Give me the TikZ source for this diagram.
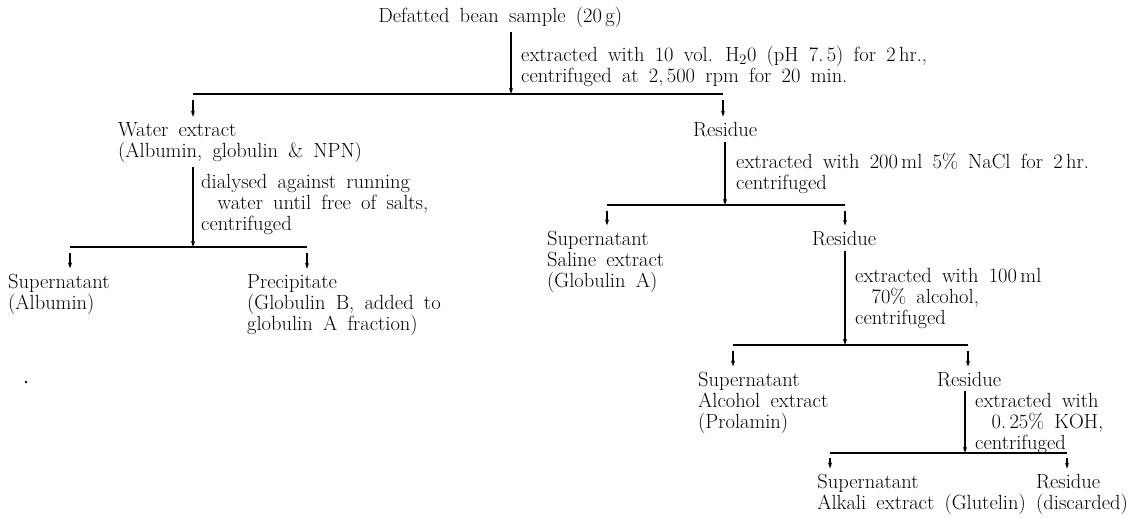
\documentclass[tikz,border=0pt]{standalone}
\usetikzlibrary{arrows.meta}
\newcommand{\fsz}{\fontsize{20.5}{21}\selectfont\spaceskip=0.5em plus 0.1em minus 0.05em\relax}
\newcommand{\mlt}[1]{\vtop{\baselineskip=21pt\lineskiplimit=-30pt\lineskip=0pt #1}}
\newcommand{\lnx}[1]{\hbox{#1}}
\begin{document}
\begin{tikzpicture}[x=1pt,y=-1pt,
  txt/.style={inner sep=0pt,anchor=base west,font=\fsz},
  conn/.style={line width=1.1pt},
  flow/.style={conn,-{Stealth[length=6pt,width=4pt]}}]
\useasboundingbox (0,0) rectangle (1143,517);
% level 0
\node[txt] (s0) at (509,22) {\llap{Defatted bean }sample (20\,g)};
\coordinate (j1) at (511,94);
\coordinate (b1l) at (193,94);
\coordinate (b1r) at (723,94);
\node[txt] (t1) at (521,61) {\mlt{\lnx{extracted with 10 vol. H\textsubscript{2}0 (pH 7.\,5) for 2\,hr.,}\lnx{centrifuged at 2,\,500 rpm for 20 min.}}};
\draw[flow] ([yshift=-5pt]s0.south -| j1) -- (j1);
\draw[conn] (b1l) -- (b1r);
% level 1
\node[txt] (we) at (118,136) {\mlt{\lnx{Water extract}\lnx{(Albumin, globulin \& NPN)}}};
\node[txt] (r1) at (693,136) {Residue};
\draw[flow] ([yshift=-6pt]b1l) -- ([yshift=5pt]we.north -| b1l);
\draw[flow] ([yshift=-6pt]b1r) -- ([yshift=5pt]r1.north -| b1r);
% left branch
\coordinate (j2) at (193,247);
\coordinate (b2l) at (70,247);
\coordinate (b2r) at (307,247);
\draw[flow] ([yshift=-5pt]we.south -| j2) -- (j2);
\node[txt] (t2) at (201,188) {\mlt{\lnx{dialysed against running}\lnx{\hskip0.8em water until free of salts,}\lnx{centrifuged}}};
\draw[conn] (b2l) -- (b2r);
\node[txt] (sn1) at (8,288) {\mlt{\lnx{Supernatant}\lnx{(Albumin)}}};
\node[txt] (pr1) at (247,288) {\mlt{\lnx{Precipitate}\lnx{(Globulin B, added to}\lnx{globulin A fraction)}}};
\draw[flow] ([yshift=-6pt]b2l) -- ([yshift=5pt]sn1.north -| b2l);
\draw[flow] ([yshift=-6pt]b2r) -- ([yshift=5pt]pr1.north -| b2r);
% right branch, NaCl
\coordinate (j3) at (725,205);
\coordinate (b3l) at (607,205);
\coordinate (b3r) at (845,205);
\draw[flow] ([yshift=-5pt]r1.south -| j3) -- (j3);
\node[txt] (t3) at (736,168) {\mlt{\lnx{extracted with 200\,ml 5\% NaCl for 2\,hr.}\lnx{centrifuged}}};
\draw[conn] (b3l) -- (b3r);
\node[txt] (sn2) at (547,245) {\mlt{\lnx{Supernatant}\lnx{Saline extract}\lnx{(Globulin A)}}};
\node[txt] (r2) at (812,245) {Residue};
\draw[flow] ([yshift=-6pt]b3l) -- ([yshift=5pt]sn2.north -| b3l);
\draw[flow] ([yshift=-6pt]b3r) -- ([yshift=5pt]r2.north -| b3r);
% alcohol
\coordinate (j4) at (845,345);
\coordinate (b4l) at (733,345);
\coordinate (b4r) at (968,345);
\draw[flow] ([yshift=-5pt]r2.south -| j4) -- (j4);
\node[txt] (t4) at (855,282) {\mlt{\lnx{extracted with 100\,ml}\lnx{\hskip0.8em 70\% alcohol,}\lnx{centrifuged}}};
\draw[conn] (b4l) -- (b4r);
\node[txt] (sn3) at (698,386) {\mlt{\lnx{Supernatant}\lnx{Alcohol extract}\lnx{(Prolamin)}}};
\node[txt] (r3) at (937,386) {Residue};
\draw[flow] ([yshift=-6pt]b4l) -- ([yshift=5pt]sn3.north -| b4l);
\draw[flow] ([yshift=-6pt]b4r) -- ([yshift=5pt]r3.north -| b4r);
% alkali
\coordinate (j5) at (965,453);
\coordinate (b5l) at (830,453);
\coordinate (b5r) at (1067,453);
\draw[flow] ([yshift=-4pt]r3.south -| j5) -- (j5);
\node[txt] (t5) at (975,407) {\mlt{\lnx{extracted with}\lnx{\hskip0.8em 0.\,25\% KOH,}\lnx{centrifuged}}};
\draw[conn] (b5l) -- (b5r);
\node[txt,anchor=base east] (sn4) at (1026,488) {\mlt{\lnx{Supernatant}\lnx{Alkali extract (Glutelin)}}};
\node[txt] (r4) at (1036,488) {\mlt{\lnx{Residue}\lnx{(discarded)}}};
\draw[flow] ([yshift=-5pt]b5l) -- ([yshift=5pt]sn4.north -| b5l);
\draw[flow] ([yshift=-5pt]b5r) -- ([yshift=5pt]r4.north -| b5r);
% stray dot
\fill (26,382) circle (1.3);
\end{tikzpicture}
\end{document}
